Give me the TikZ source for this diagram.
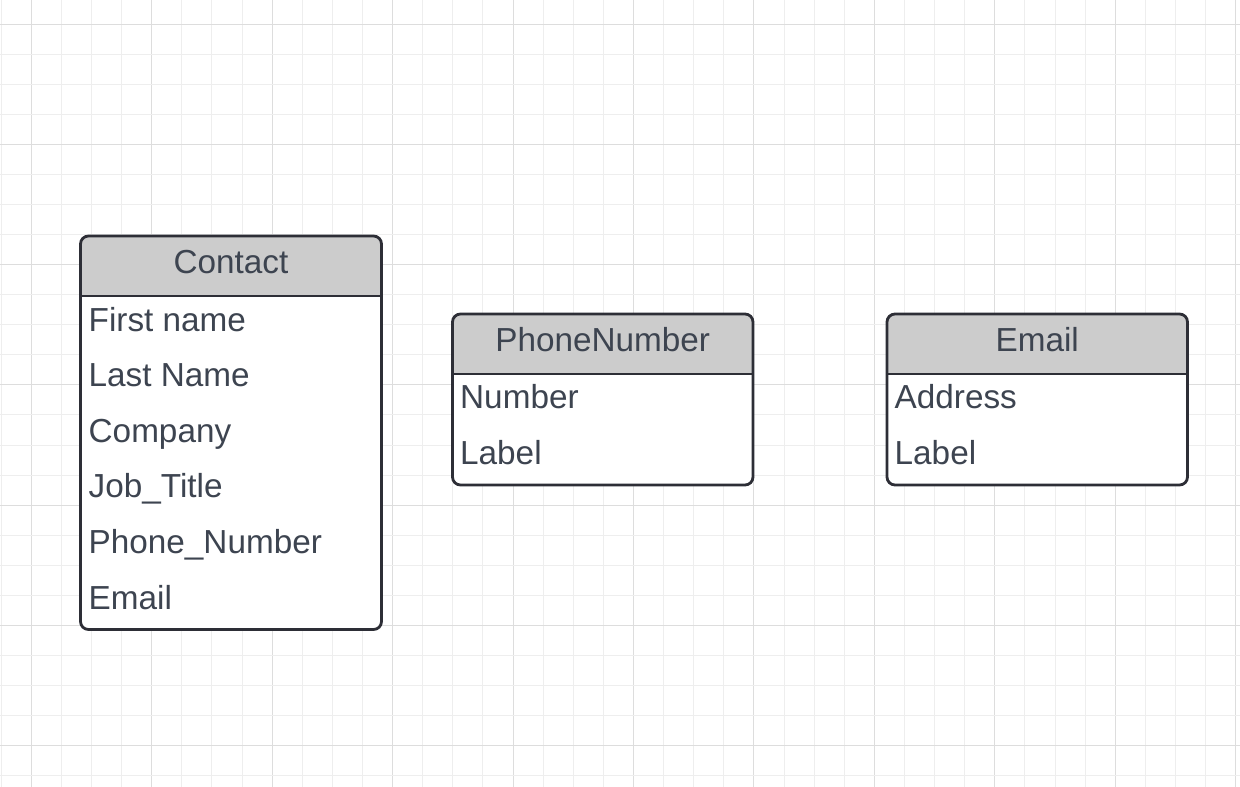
\documentclass[tikz,border=0pt]{standalone}
\usepackage{fontspec}
\setmainfont{Liberation Sans}
\definecolor{gridminor}{HTML}{EEEEEE}
\definecolor{gridmajor}{HTML}{DDDDDD}
\definecolor{boxline}{HTML}{2D2E36}
\definecolor{headfill}{HTML}{CCCCCC}
\definecolor{txt}{HTML}{3D4450}
\tikzset{
  boxframe/.style={draw=boxline, line width=2.8pt, rounded corners=8pt},
  field/.style={anchor=base west, inner sep=0pt, text=txt, font=\fontsize{33.3}{38}\selectfont},
  title/.style={anchor=base, inner sep=0pt, text=txt, font=\fontsize{33.3}{38}\selectfont},
}
\newcommand{\entitybox}[5]{%
  % #1 x1, #2 y1, #3 x2, #4 yheader, #5 y2
  \begin{scope}
    \clip[rounded corners=8pt] (#1,#2) rectangle (#3,#5);
    \fill[white] (#1,#2) rectangle (#3,#5);
    \fill[headfill] (#1,#2) rectangle (#3,#4);
  \end{scope}
  \draw[draw=boxline, line width=2.8pt] (#1,#4) -- (#3,#4);
  \draw[boxframe] (#1,#2) rectangle (#3,#5);
}
\begin{document}
\begin{tikzpicture}[x=1pt,y=-1pt]
\useasboundingbox (0,0) rectangle (1240,787);
\fill[white] (0,0) rectangle (1240,787);
% grid
\foreach \k in {0,...,41} {
  \pgfmathsetmacro{\xx}{1.2+30.11*\k}
  \pgfmathtruncatemacro{\m}{mod(\k,4)}
  \ifnum\m=1
    \draw[gridmajor, line width=1pt] (\xx,0) -- (\xx,787);
  \else
    \draw[gridminor, line width=1pt] (\xx,0) -- (\xx,787);
  \fi
}
\foreach \k in {0,...,26} {
  \pgfmathsetmacro{\yy}{24.3+30.05*(\k-1)}
  \pgfmathtruncatemacro{\m}{mod(\k,4)}
  \ifnum\m=1
    \draw[gridmajor, line width=1pt] (0,\yy) -- (1240,\yy);
  \else
    \draw[gridminor, line width=1pt] (0,\yy) -- (1240,\yy);
  \fi
}
% Contact
\entitybox{80.5}{236}{381.5}{296}{629.5}
\node[title] (contactT) at (231,273.3) {Contact};
\node[field] (c1) at (88.5,331) {First name};
\node[field] (c2) at (88.5,386.6) {Last Name};
\node[field] (c3) at (88.5,442.2) {Company};
\node[field] (c4) at (88.5,497.8) {Job\_Title};
\node[field] (c5) at (88.5,553.4) {Phone\_Number};
\node[field] (c6) at (88.5,609) {Email};
% PhoneNumber
\entitybox{452.5}{314}{753}{374}{485}
\node[title] (phoneT) at (602.7,351) {PhoneNumber};
\node[field] (p1) at (460,408.5) {Number};
\node[field] (p2) at (460,464.3) {Label};
% Email
\entitybox{887}{314}{1187.5}{374}{485}
\node[title] (emailT) at (1037.2,351) {Email};
\node[field] (e1) at (894.5,408.5) {Address};
\node[field] (e2) at (894.5,464.3) {Label};
\end{tikzpicture}
\end{document}
